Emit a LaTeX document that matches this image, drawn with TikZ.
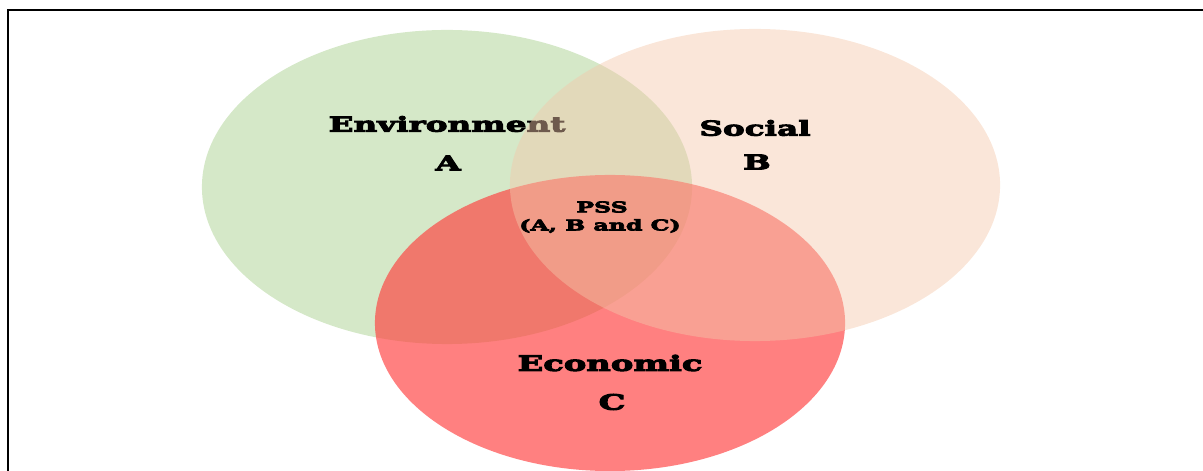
\documentclass[tikz,border=0pt]{standalone}
\usepackage{fontspec}
\newfontfamily\heavyfont[FakeStretch=1.6, FakeBold=5]{DejaVu Serif Bold}
\usetikzlibrary{positioning}

\definecolor{envgreen}{RGB}{213,232,200}
\definecolor{socpeach}{RGB}{244,200,171}
\definecolor{ecored}{RGB}{255,60,60}

\begin{document}
\begin{tikzpicture}[
    x=0.025cm, y=-0.025cm,
    label/.style={inner sep=0pt, text=black},
    big/.style={label, font=\heavyfont\fontsize{14.5}{14.5}\selectfont},
    eco/.style={label, font=\heavyfont\fontsize{15}{15}\selectfont},
    small/.style={label, font=\heavyfont\fontsize{10.5}{10.5}\selectfont}
]

\useasboundingbox (0,0) rectangle (1203,471);

% Frame (top and left only)
\draw [line width=1.8pt, black] (1203,10) -- (8,10) -- (8,471);

% Environment circle and its text (text lies under the Social circle)
\fill [envgreen] (447,187) ellipse [x radius=6.125cm, y radius=3.925cm];
\fill [ecored, opacity=0.65] (610,323) ellipse [x radius=5.875cm, y radius=3.7cm];
\node (env) at (447,124) [big] {Environment};
\node (envA) at (448,163) [big] {A};

% Social circle on top
\fill [socpeach, opacity=0.45] (755,185) ellipse [x radius=6.125cm, y radius=3.9cm];

% Social
\node (soc) at (755,128) [big] {Social};
\node (socB) at (757,162) [big] {B};

% PSS
\node (pss) at (602,207) [small] {PSS};
\node (pssABC) at (600,226) [small] {(A, B and C)};

% Economic
\node (econ) at (610,363) [eco] {Economic};
\node (econC) at (612,402) [eco] {C};

\end{tikzpicture}
\end{document}
